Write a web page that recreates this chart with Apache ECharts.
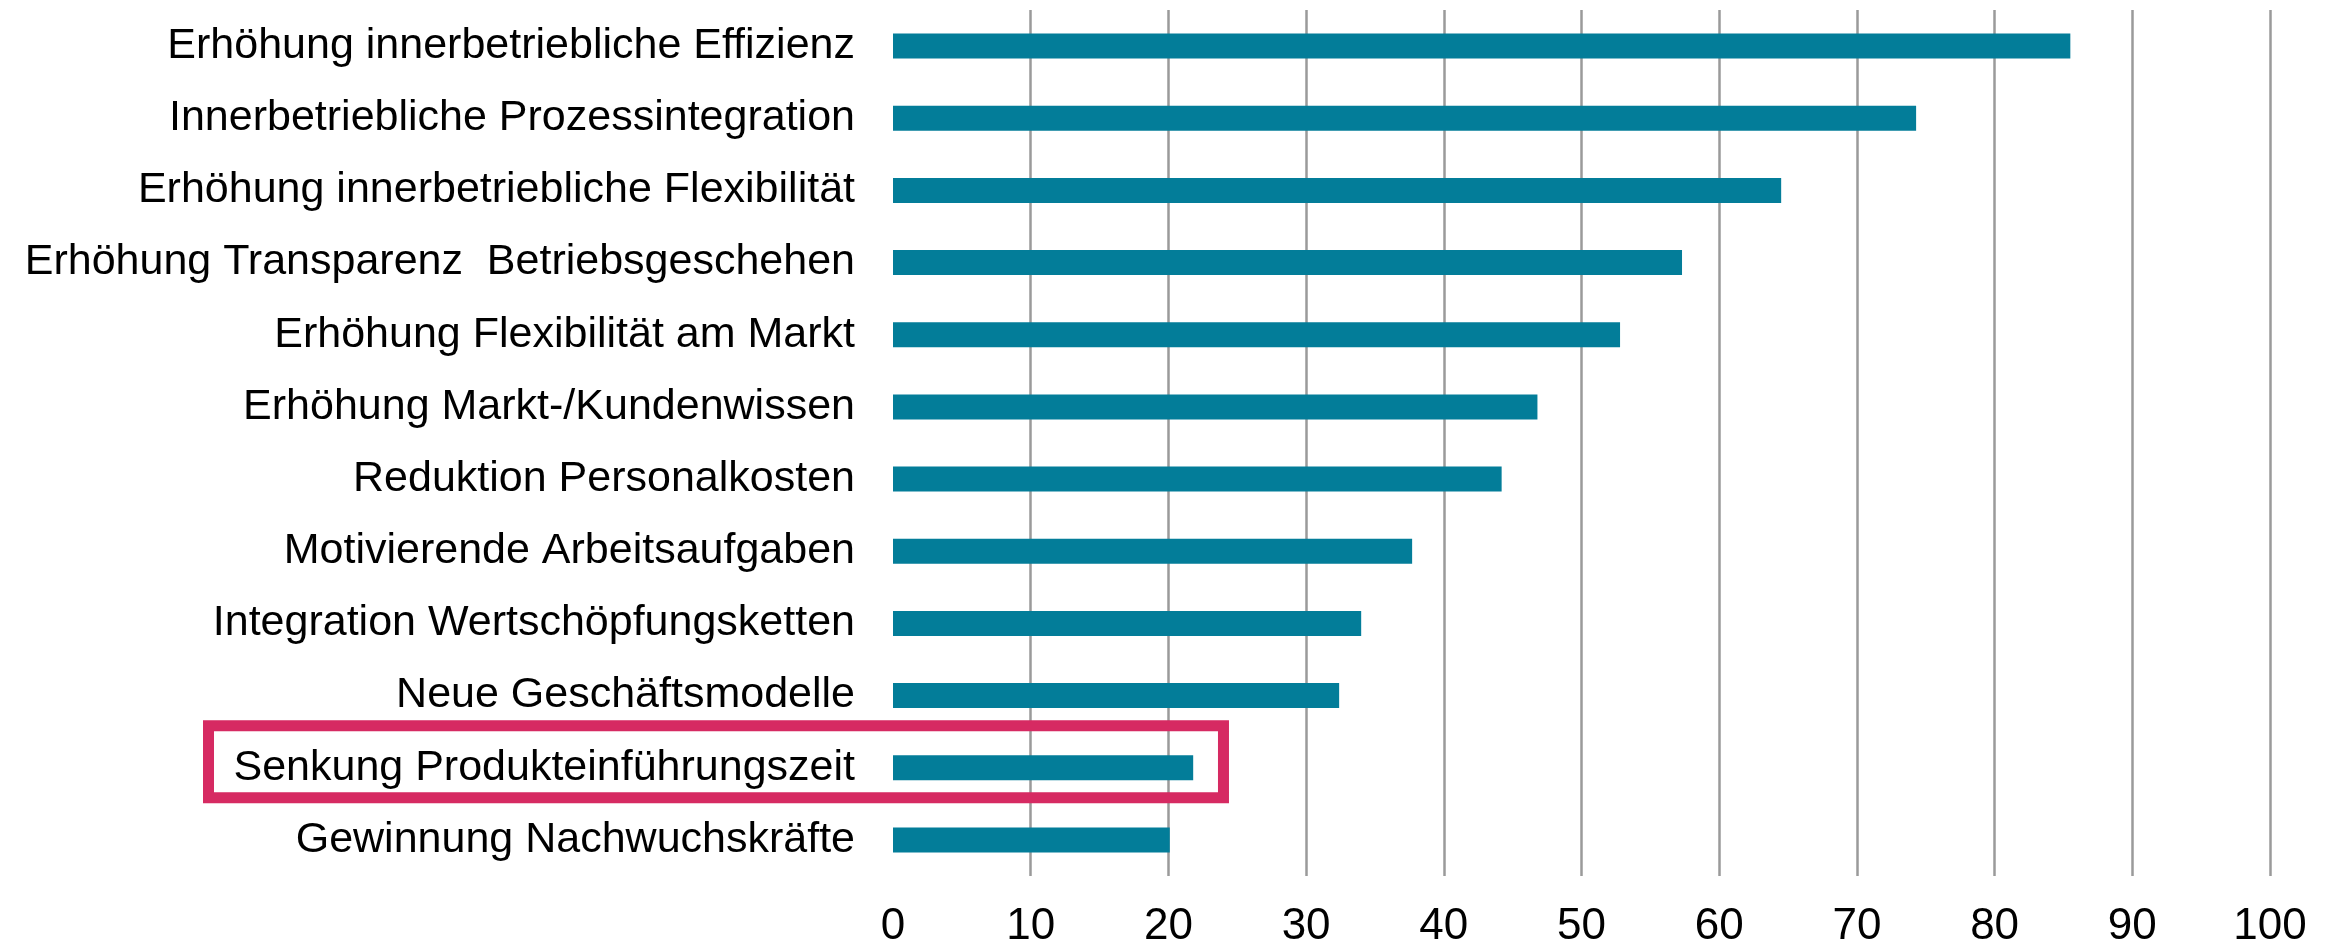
<!DOCTYPE html>
<html>
<head>
<meta charset="utf-8">
<script src="https://cdn.jsdelivr.net/npm/echarts@6/dist/echarts.min.js"></script>
<style>
html,body{margin:0;padding:0;background:#fff;}
#c{width:2338px;height:940px;}
</style>
</head>
<body>
<div id="c"></div>
<script>
const categories = [
  'Erhöhung innerbetriebliche Effizienz',
  'Innerbetriebliche Prozessintegration',
  'Erhöhung innerbetriebliche Flexibilität',
  'Erhöhung Transparenz  Betriebsgeschehen',
  'Erhöhung Flexibilität am Markt',
  'Erhöhung Markt-/Kundenwissen',
  'Reduktion Personalkosten',
  'Motivierende Arbeitsaufgaben',
  'Integration Wertschöpfungsketten',
  'Neue Geschäftsmodelle',
  'Senkung Produkteinführungszeit',
  'Gewinnung Nachwuchskräfte'
];
const values = [85.5, 74.3, 64.5, 57.3, 52.8, 46.8, 44.2, 37.7, 34.0, 32.4, 21.8, 20.1];
const xTicks = [0, 10, 20, 30, 40, 50, 60, 70, 80, 90, 100];
const highlighted = 'Senkung Produkteinführungszeit';
const highlightRightValue = 24;

const FONT = "'Liberation Sans Narrow', 'Arial Narrow', 'Liberation Sans', Arial, sans-serif";
const GRID_COLOR = '#9a9a9a';
const chart = echarts.init(document.getElementById('c'), null, {renderer: 'canvas'});
chart.setOption({
  animation: false,
  backgroundColor: '#ffffff',
  grid: {left: 893, width: 1377, top: 10, bottom: 64, containLabel: false, outerBoundsMode: 'none'},
  xAxis: {
    type: 'value', min: xTicks[0], max: xTicks[xTicks.length - 1], interval: 10,
    axisLine: {show: false}, axisTick: {show: false},
    splitLine: {show: true, lineStyle: {
      color: xTicks.map((t, i) => i === 0 ? 'rgba(0,0,0,0)' : GRID_COLOR), width: 2.5}},
    axisLabel: {fontFamily: FONT, fontSize: 44, color: '#000', margin: 29}
  },
  yAxis: {
    type: 'category', data: categories, inverse: true,
    axisLine: {show: false}, axisTick: {show: false},
    axisLabel: {fontFamily: FONT, fontSize: 43, color: '#000', margin: 38}
  },
  series: [{
    type: 'bar', data: values, barWidth: 25,
    itemStyle: {color: '#037D99'}
  }]
});

const yc = chart.convertToPixel({yAxisIndex: 0}, highlighted);
const xr = chart.convertToPixel({xAxisIndex: 0}, highlightRightValue);
chart.setOption({
  graphic: [
    {type: 'rect', z: 100,
      shape: {x: 208.5, y: yc - 42, width: xr - 208.5, height: 72},
      style: {fill: 'none', stroke: '#D62A62', lineWidth: 11}}
  ]
});
</script>
</body>
</html>
